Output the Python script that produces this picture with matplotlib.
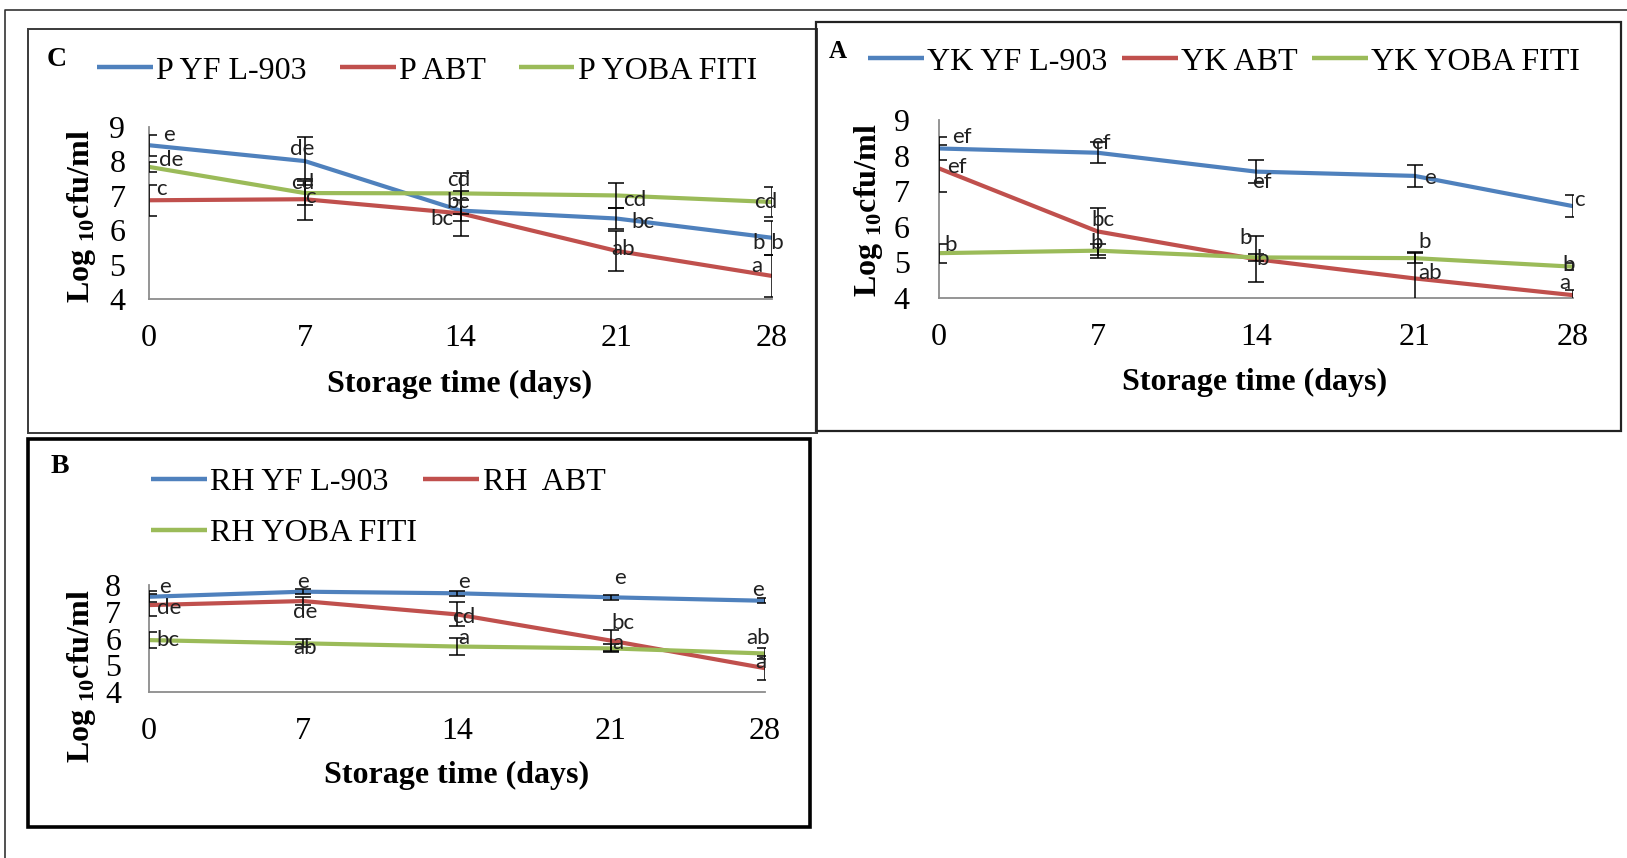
import matplotlib
matplotlib.use("Agg")
import matplotlib.pyplot as plt
from matplotlib.lines import Line2D
from matplotlib.patches import Rectangle

plt.rcParams['font.family'] = ['Liberation Serif', 'DejaVu Serif']
plt.rcParams['mathtext.fontset'] = 'custom'
plt.rcParams['mathtext.rm'] = 'Liberation Serif'
plt.rcParams['mathtext.bf'] = 'Liberation Serif:bold'

# ---------------- data ----------------
days = [0, 7, 14, 21, 28]

# Panel C (P)
p_yf = [8.47, 8.01, 6.57, 6.34, 5.78]
p_abt = [6.87, 6.90, 6.49, 5.40, 4.67]
p_yoba = [7.84, 7.08, 7.07, 7.01, 6.82]
p_yf_err = [0.30, 0.70, 0.30, 0.30, 0.50]
p_abt_err = [0.45, 0.60, 0.65, 0.58, 0.60]
p_yoba_err = [0.15, 0.35, 0.60, 0.36, 0.43]
p_yf_lbl = ['e', 'de', 'bc', 'bc', 'b b']
p_abt_lbl = ['c', 'c', 'bc', 'ab', 'a']
p_yoba_lbl = ['de', 'cd', 'cd', 'cd', 'cd']

# Panel A (YK)
yk_yf = [8.20, 8.08, 7.55, 7.43, 6.58]
yk_abt = [7.64, 5.87, 5.09, 4.55, 4.08]
yk_yoba = [5.26, 5.33, 5.14, 5.12, 4.88]
yk_yf_err = [0.31, 0.29, 0.33, 0.30, 0.30]
yk_abt_err = [0.65, 0.65, 0.65, 0.75, 0.15]
yk_yoba_err = [0.27, 0.20, 0.10, 0.15, 0.10]
yk_yf_lbl = ['ef', 'ef', 'ef', 'e', 'c']
yk_abt_lbl = ['ef', 'bc', 'b', 'ab', 'a']
yk_yoba_lbl = ['b', 'b', 'b', 'b', 'b']

# Panel B (RH)
rh_yf = [7.56, 7.75, 7.69, 7.54, 7.41]
rh_abt = [7.25, 7.40, 6.90, 5.92, 4.89]
rh_yoba = [5.94, 5.82, 5.70, 5.63, 5.44]
rh_yf_err = [0.20, 0.10, 0.10, 0.10, 0.10]
rh_abt_err = [0.40, 0.15, 0.45, 0.40, 0.45]
rh_yoba_err = [0.30, 0.15, 0.30, 0.15, 0.20]
rh_yf_lbl = ['e', 'e', 'e', 'e', 'e']
rh_abt_lbl = ['de', 'de', 'cd', 'bc', 'a']
rh_yoba_lbl = ['bc', 'ab', 'a', 'a', 'ab']

# ---------------- label placement (offsets in days, log units) ----------------
p_yf_off = [(0.9, 0.30), (-0.1, 0.36), (-0.1, 0.25), (1.2, -0.09), (-0.15, -0.16)]
p_abt_off = [(0.57, 0.33), (0.24, 0.06), (-0.85, -0.15), (0.3, 0.06), (-0.7, 0.29)]
p_yoba_off = [(0.98, 0.19), (-0.1, 0.28), (-0.1, 0.38), (0.84, -0.14), (-0.3, 0.0)]

yk_yf_off = [(1.0, 0.31), (0.17, 0.28), (0.26, -0.28), (0.69, -0.07), (0.3, 0.17)]
yk_abt_off = [(0.8, 0.05), (0.25, 0.32), (-0.44, 0.59), (0.7, 0.14), (-0.35, 0.33)]
yk_yoba_off = [(0.52, 0.23), (-0.05, 0.22), (0.3, -0.05), (0.45, 0.46), (-0.2, 0.05)]

rh_yf_off = [(0.75, 0.38), (0.0, 0.37), (0.3, 0.43), (0.4, 0.71), (-0.3, 0.40)]
rh_abt_off = [(0.9, -0.12), (0.1, -0.40), (0.3, -0.09), (0.55, 0.65), (-0.2, 0.24)]
rh_yoba_off = [(0.85, 0.0), (0.1, -0.19), (0.3, 0.30), (0.3, 0.19), (-0.3, 0.56)]

BLUE = '#4F81BD'
RED = '#C0504D'
GREEN = '#9BBB59'

W, H = 1627, 858
fig = plt.figure(figsize=(W / 100, H / 100), dpi=100)
fig.patch.set_facecolor('white')


def fx(x):
    return x / W


def fy(y):
    return 1 - y / H


def make_axes(l, t, r, b, ylim, yticks):
    ax = fig.add_axes([fx(l), fy(b), fx(r) - fx(l), fy(t) - fy(b)])
    ax.set_xlim(0, 28)
    ax.set_ylim(*ylim)
    ax.set_xticks(days)
    ax.set_yticks(yticks)
    for s in ['top', 'right']:
        ax.spines[s].set_visible(False)
    for s in ['left', 'bottom']:
        ax.spines[s].set_color('#8C8C8C')
        ax.spines[s].set_linewidth(1.3)
    ax.tick_params(axis='both', length=0, labelsize=23)
    ax.tick_params(axis='y', pad=17)
    ax.tick_params(axis='x', pad=18)
    ax.set_facecolor('none')
    return ax


def draw_series(ax, vals, errs, lbls, offs, color):
    ax.plot(days, vals, color=color, lw=3, solid_capstyle='butt', zorder=2)
    ax.errorbar(days, vals, yerr=errs, fmt='none', ecolor='black',
                elinewidth=1.1, capsize=6, capthick=1.1, zorder=3)
    for x, v, t, (dx, dy) in zip(days, vals, lbls, offs):
        ax.text(x + dx, v + dy, t, ha='center', va='center', fontsize=16,
                family=['Lato', 'DejaVu Sans'], color='#202020',
                clip_on=False, zorder=4)


def add_legend(handles, labels, x, y, ncol, labelspacing=0.5, colspace=1.03):
    fig.legend(handles, labels, loc='center left',
               bbox_to_anchor=(fx(x), fy(y)), ncol=ncol, frameon=False,
               prop={'family': 'Liberation Serif', 'size': 23},
               handlelength=1.75, handletextpad=0.1, columnspacing=colspace,
               borderpad=0, borderaxespad=0, labelspacing=labelspacing)


def h(color):
    return Line2D([], [], color=color, lw=3.2, solid_capstyle='butt')


ylabel = r'Log $_{\mathbf{10}}$cfu/ml'
lab_kw = dict(fontsize=23, fontweight='bold', family='Liberation Serif')

# ---------------- Panel C ----------------
axC = make_axes(149, 127, 772, 299, (4, 9), [4, 5, 6, 7, 8, 9])
draw_series(axC, p_yf, p_yf_err, p_yf_lbl, p_yf_off, BLUE)
draw_series(axC, p_abt, p_abt_err, p_abt_lbl, p_abt_off, RED)
draw_series(axC, p_yoba, p_yoba_err, p_yoba_lbl, p_yoba_off, GREEN)
fig.text(fx(81), fy(216), ylabel, rotation=90, ha='center', va='center', **lab_kw)
fig.text(fx(460), fy(384), 'Storage time (days)', ha='center', va='center', **lab_kw)
fig.text(fx(57), fy(60), 'C', ha='center', va='center', fontsize=20,
         fontweight='bold', family='Liberation Serif')
add_legend([h(BLUE), h(RED), h(GREEN)], ['P YF L-903', 'P ABT', 'P YOBA FITI'],
           97, 71, 3)

# ---------------- Panel A ----------------
axA = make_axes(939, 120, 1573, 298, (4, 9), [4, 5, 6, 7, 8, 9])
axA.tick_params(axis='y', pad=21)
draw_series(axA, yk_yf, yk_yf_err, yk_yf_lbl, yk_yf_off, BLUE)
draw_series(axA, yk_abt, yk_abt_err, yk_abt_lbl, yk_abt_off, RED)
draw_series(axA, yk_yoba, yk_yoba_err, yk_yoba_lbl, yk_yoba_off, GREEN)
fig.text(fx(868), fy(210), ylabel, rotation=90, ha='center', va='center', **lab_kw)
fig.text(fx(1255), fy(382), 'Storage time (days)', ha='center', va='center', **lab_kw)
fig.text(fx(838), fy(52), 'A', ha='center', va='center', fontsize=18,
         fontweight='bold', family='Liberation Serif')
add_legend([h(BLUE), h(RED), h(GREEN)], ['YK YF L-903', 'YK ABT', 'YK YOBA FITI'],
           868, 62, 3, colspace=0.45)

# ---------------- Panel B ----------------
axB = make_axes(149, 585, 765, 692, (4, 8), [4, 5, 6, 7, 8])
axB.tick_params(axis='y', pad=20)
draw_series(axB, rh_yf, rh_yf_err, rh_yf_lbl, rh_yf_off, BLUE)
draw_series(axB, rh_abt, rh_abt_err, rh_abt_lbl, rh_abt_off, RED)
draw_series(axB, rh_yoba, rh_yoba_err, rh_yoba_lbl, rh_yoba_off, GREEN)
fig.text(fx(81), fy(676), ylabel, rotation=90, ha='center', va='center', **lab_kw)
fig.text(fx(457), fy(775), 'Storage time (days)', ha='center', va='center', **lab_kw)
fig.text(fx(60), fy(466), 'B', ha='center', va='center', fontsize=20,
         fontweight='bold', family='Liberation Serif')
add_legend([h(BLUE), h(GREEN), h(RED)], ['RH YF L-903', 'RH YOBA FITI', 'RH  ABT'],
           151, 508, 2, labelspacing=0.66, colspace=0.2)

# ---------------- frames ----------------
def frame(l, t, r, b, lw, color):
    fig.patches.append(Rectangle((fx(l), fy(b)), fx(r) - fx(l), fy(t) - fy(b),
                                 transform=fig.transFigure, fill=False,
                                 lw=lw, edgecolor=color, zorder=0))


fig.lines.append(Line2D([fx(5), fx(5), fx(W)], [fy(H), fy(10), fy(10)],
                        transform=fig.transFigure, color='#333333', lw=1.2))
frame(28, 29, 817, 433, 1.4, '#3A3A3A')
frame(816, 22, 1621, 431, 1.6, '#222222')
frame(28, 439, 810, 827, 2.6, '#000000')

fig.savefig('out.png', dpi=100, facecolor='white')
